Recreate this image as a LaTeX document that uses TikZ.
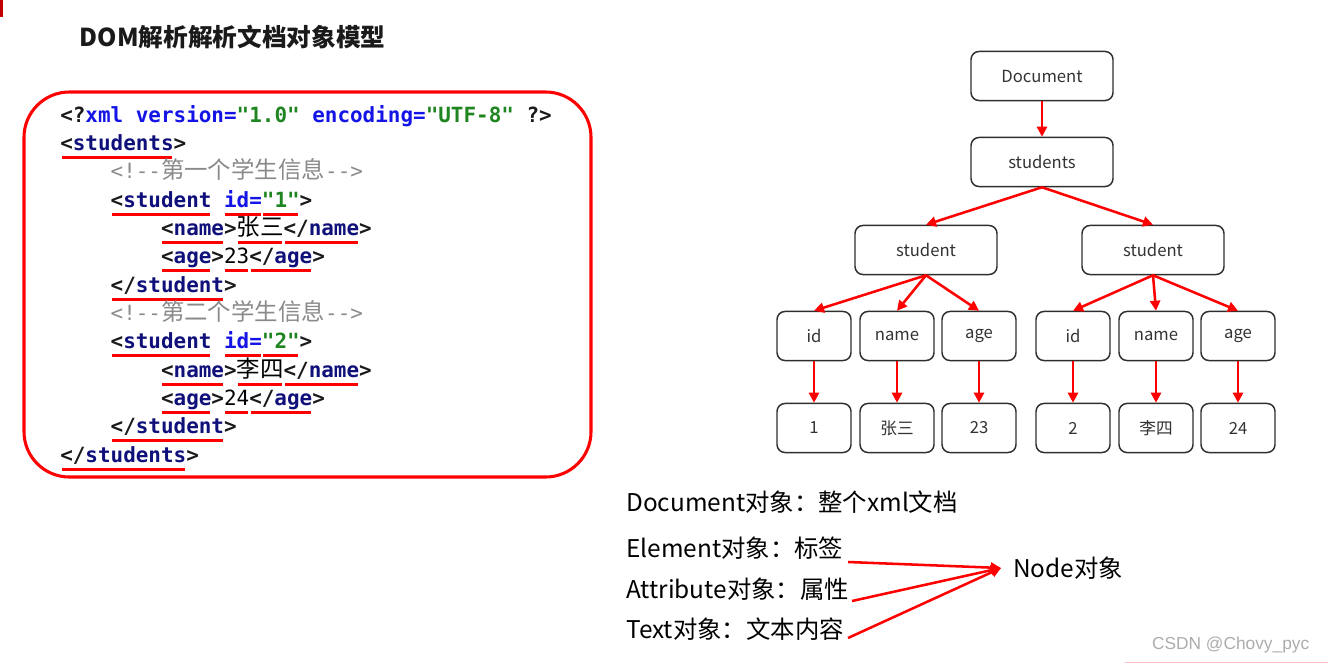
\documentclass[tikz,border=0pt]{standalone}
\usepackage{fontspec}
\usetikzlibrary{arrows.meta}

\newfontfamily\cjk{Noto Sans CJK SC}
\newfontfamily\codefont{DejaVu Sans Mono}[Ligatures=TeXOff]
\newfontfamily\codecjk{Noto Sans CJK SC}[Scale=1.12]
\newfontfamily\wmfont{Liberation Sans}

\definecolor{xmltag}{HTML}{10107A}
\definecolor{xmlkey}{HTML}{1414E6}
\definecolor{xmlval}{HTML}{1E8520}
\definecolor{xmlcom}{HTML}{8A8A8A}
\definecolor{xmlbr}{HTML}{1A1A1A}
\definecolor{boxline}{HTML}{2E2E2E}
\definecolor{boxtext}{HTML}{333333}
\definecolor{arrred}{HTML}{FF0000}
\definecolor{cornermark}{HTML}{C00000}
\definecolor{titlegray}{HTML}{1A1A1A}

% xml colouring
\newcommand\xtag[1]{{\color{xmltag}#1}}
\newcommand\xkey[1]{{\color{xmlkey}#1}}
\newcommand\xval[1]{{\color{xmlval}#1}}
\newcommand\xcom[1]{{\color{xmlcom}\mdseries#1}}
\newcommand\xtxt[1]{{\color{black}\mdseries#1}}
\newcommand\zh[1]{{\codecjk\mdseries#1}}
% red underline under a token
\newcommand\rul[1]{\setbox0\hbox{#1}\rlap{\hspace{1pt}\color{arrred}\rule[-6.4pt]{\dimexpr\wd0-2pt\relax}{2.2pt}}\box0\relax}

\begin{document}
\begin{tikzpicture}[x=0.75pt, y=-0.75pt,
  code/.style={anchor=base west, inner sep=0pt, text=xmlbr,
    font={\fontsize{15.7}{18}\codefont\bfseries}},
  tbox/.style={draw=boxline, line width=1.1pt, rounded corners=6pt,
    minimum width=106.5pt, minimum height=36.8pt, text=boxtext,
    font={\fontsize{12.5}{14}\cjk}},
  leaf/.style={tbox, minimum width=55.5pt},
  btext/.style={anchor=west, inner sep=0pt, font={\fontsize{18.3}{22}\cjk}},
  redarrow/.style={draw=arrred, line width=1.9pt,
    -{Triangle[length=7.5pt,width=7.5pt]}}]
  \useasboundingbox (0,0) rectangle (1328,664);

  \fill[cornermark] (0,0) rectangle (3,17);
  \node[anchor=west, text=titlegray, font={\fontsize{18.5}{22}\cjk\bfseries}] (title) at (75,37) {DOM解析解析文档对象模型};

  % xml source
  \draw[arrred, line width=2.3pt, rounded corners=34pt] (24,92) rectangle (591,477);
  \node[code] (l1) at (60,122) {<?\xkey{xml version=}\xval{"1.0"} \xkey{encoding=}\xval{"UTF-8"} ?>};
  \node[code] (l2) at (60,150.3) {\rul{<\xtag{students}}>};
  \node[code] (l3) at (110.4,178.7) {\xcom{<!--\zh{第一个学生信息}-->}};
  \node[code] (l4) at (110.4,207) {\rul{<\xtag{student}} \rul{\xkey{id=}}\rul{\xval{"1"}}>};
  \node[code] (l5) at (160.8,235.3) {\rul{<\xtag{name}}>\rul{\xtxt{\zh{张三}}}\rul{</\xtag{name}}>};
  \node[code] (l6) at (160.8,263.7) {\rul{<\xtag{age}}>\rul{\xtxt{23}}\rul{</\xtag{age}}>};
  \node[code] (l7) at (110.4,292) {\rul{</\xtag{student}}>};
  \node[code] (l8) at (110.4,320.3) {\xcom{<!--\zh{第二个学生信息}-->}};
  \node[code] (l9) at (110.4,348.7) {\rul{<\xtag{student}} \rul{\xkey{id=}}\rul{\xval{"2"}}>};
  \node[code] (l10) at (160.8,377) {\rul{<\xtag{name}}>\rul{\xtxt{\zh{李四}}}\rul{</\xtag{name}}>};
  \node[code] (l11) at (160.8,405.3) {\rul{<\xtag{age}}>\rul{\xtxt{24}}\rul{</\xtag{age}}>};
  \node[code] (l12) at (110.4,433.7) {\rul{</\xtag{student}}>};
  \node[code] (l13) at (60,462) {\rul{</\xtag{students}}>};

  % dom tree
  \node[tbox] (doc) at (1042,76) {Document};
  \node[tbox] (stus) at (1042,162) {students};
  \node[tbox] (stu1) at (926,250) {student};
  \node[tbox] (stu2) at (1153,250) {student};
  \node[leaf] (id1) at (814,336) {id};
  \node[leaf] (name1) at (897,336) {name};
  \node[leaf] (age1) at (979,336) {age};
  \node[leaf] (id2) at (1073,336) {id};
  \node[leaf] (name2) at (1156,336) {name};
  \node[leaf] (age2) at (1238,336) {age};
  \node[leaf] (val1) at (814,428) {1};
  \node[leaf] (zs) at (897,428) {张三};
  \node[leaf] (a23) at (979,428) {23};
  \node[leaf] (val2) at (1073,428) {2};
  \node[leaf] (ls) at (1156,428) {李四};
  \node[leaf] (a24) at (1238,428) {24};

  \draw[redarrow] (doc) -- (stus);
  \draw[redarrow] (stus.south) -- (stu1.north);
  \draw[redarrow] (stus.south) -- (stu2.north);
  \draw[redarrow] (stu1.south) -- (id1.north);
  \draw[redarrow] (stu1.south) -- (name1.north);
  \draw[redarrow] (stu1.south) -- (age1.north);
  \draw[redarrow] (stu2.south) -- (id2.north);
  \draw[redarrow] (stu2.south) -- (name2.north);
  \draw[redarrow] (stu2.south) -- (age2.north);
  \draw[redarrow] (id1) -- (val1);
  \draw[redarrow] (name1) -- (zs);
  \draw[redarrow] (age1) -- (a23);
  \draw[redarrow] (id2) -- (val2);
  \draw[redarrow] (name2) -- (ls);
  \draw[redarrow] (age2) -- (a24);

  % object kinds
  \node[btext] (docobj) at (626,502) {Document对象：整个xml文档};
  \node[btext] (elemobj) at (626,548) {Element对象：标签};
  \node[btext] (attrobj) at (626,589) {Attribute对象：属性};
  \node[btext] (textobj) at (626,629) {Text对象：文本内容};
  \node[btext, inner xsep=9pt] (nodeobj) at (1001,568) {Node对象};
  \coordinate (e1) at (848,562);
  \coordinate (e2) at (852,601);
  \coordinate (e3) at (848,638);
  \draw[redarrow] (e1) -- (nodeobj.west);
  \draw[redarrow] (e2) -- (nodeobj.west);
  \draw[redarrow] (e3) -- (nodeobj.west);

  \node[anchor=east, text=gray!65, font={\fontsize{13}{15}\wmfont}] (wm) at (1314,645) {CSDN @Chovy\_pyc};
  \draw[red!25, line width=1.2pt] (1125,662.5) -- (1328,662.5);
\end{tikzpicture}
\end{document}
